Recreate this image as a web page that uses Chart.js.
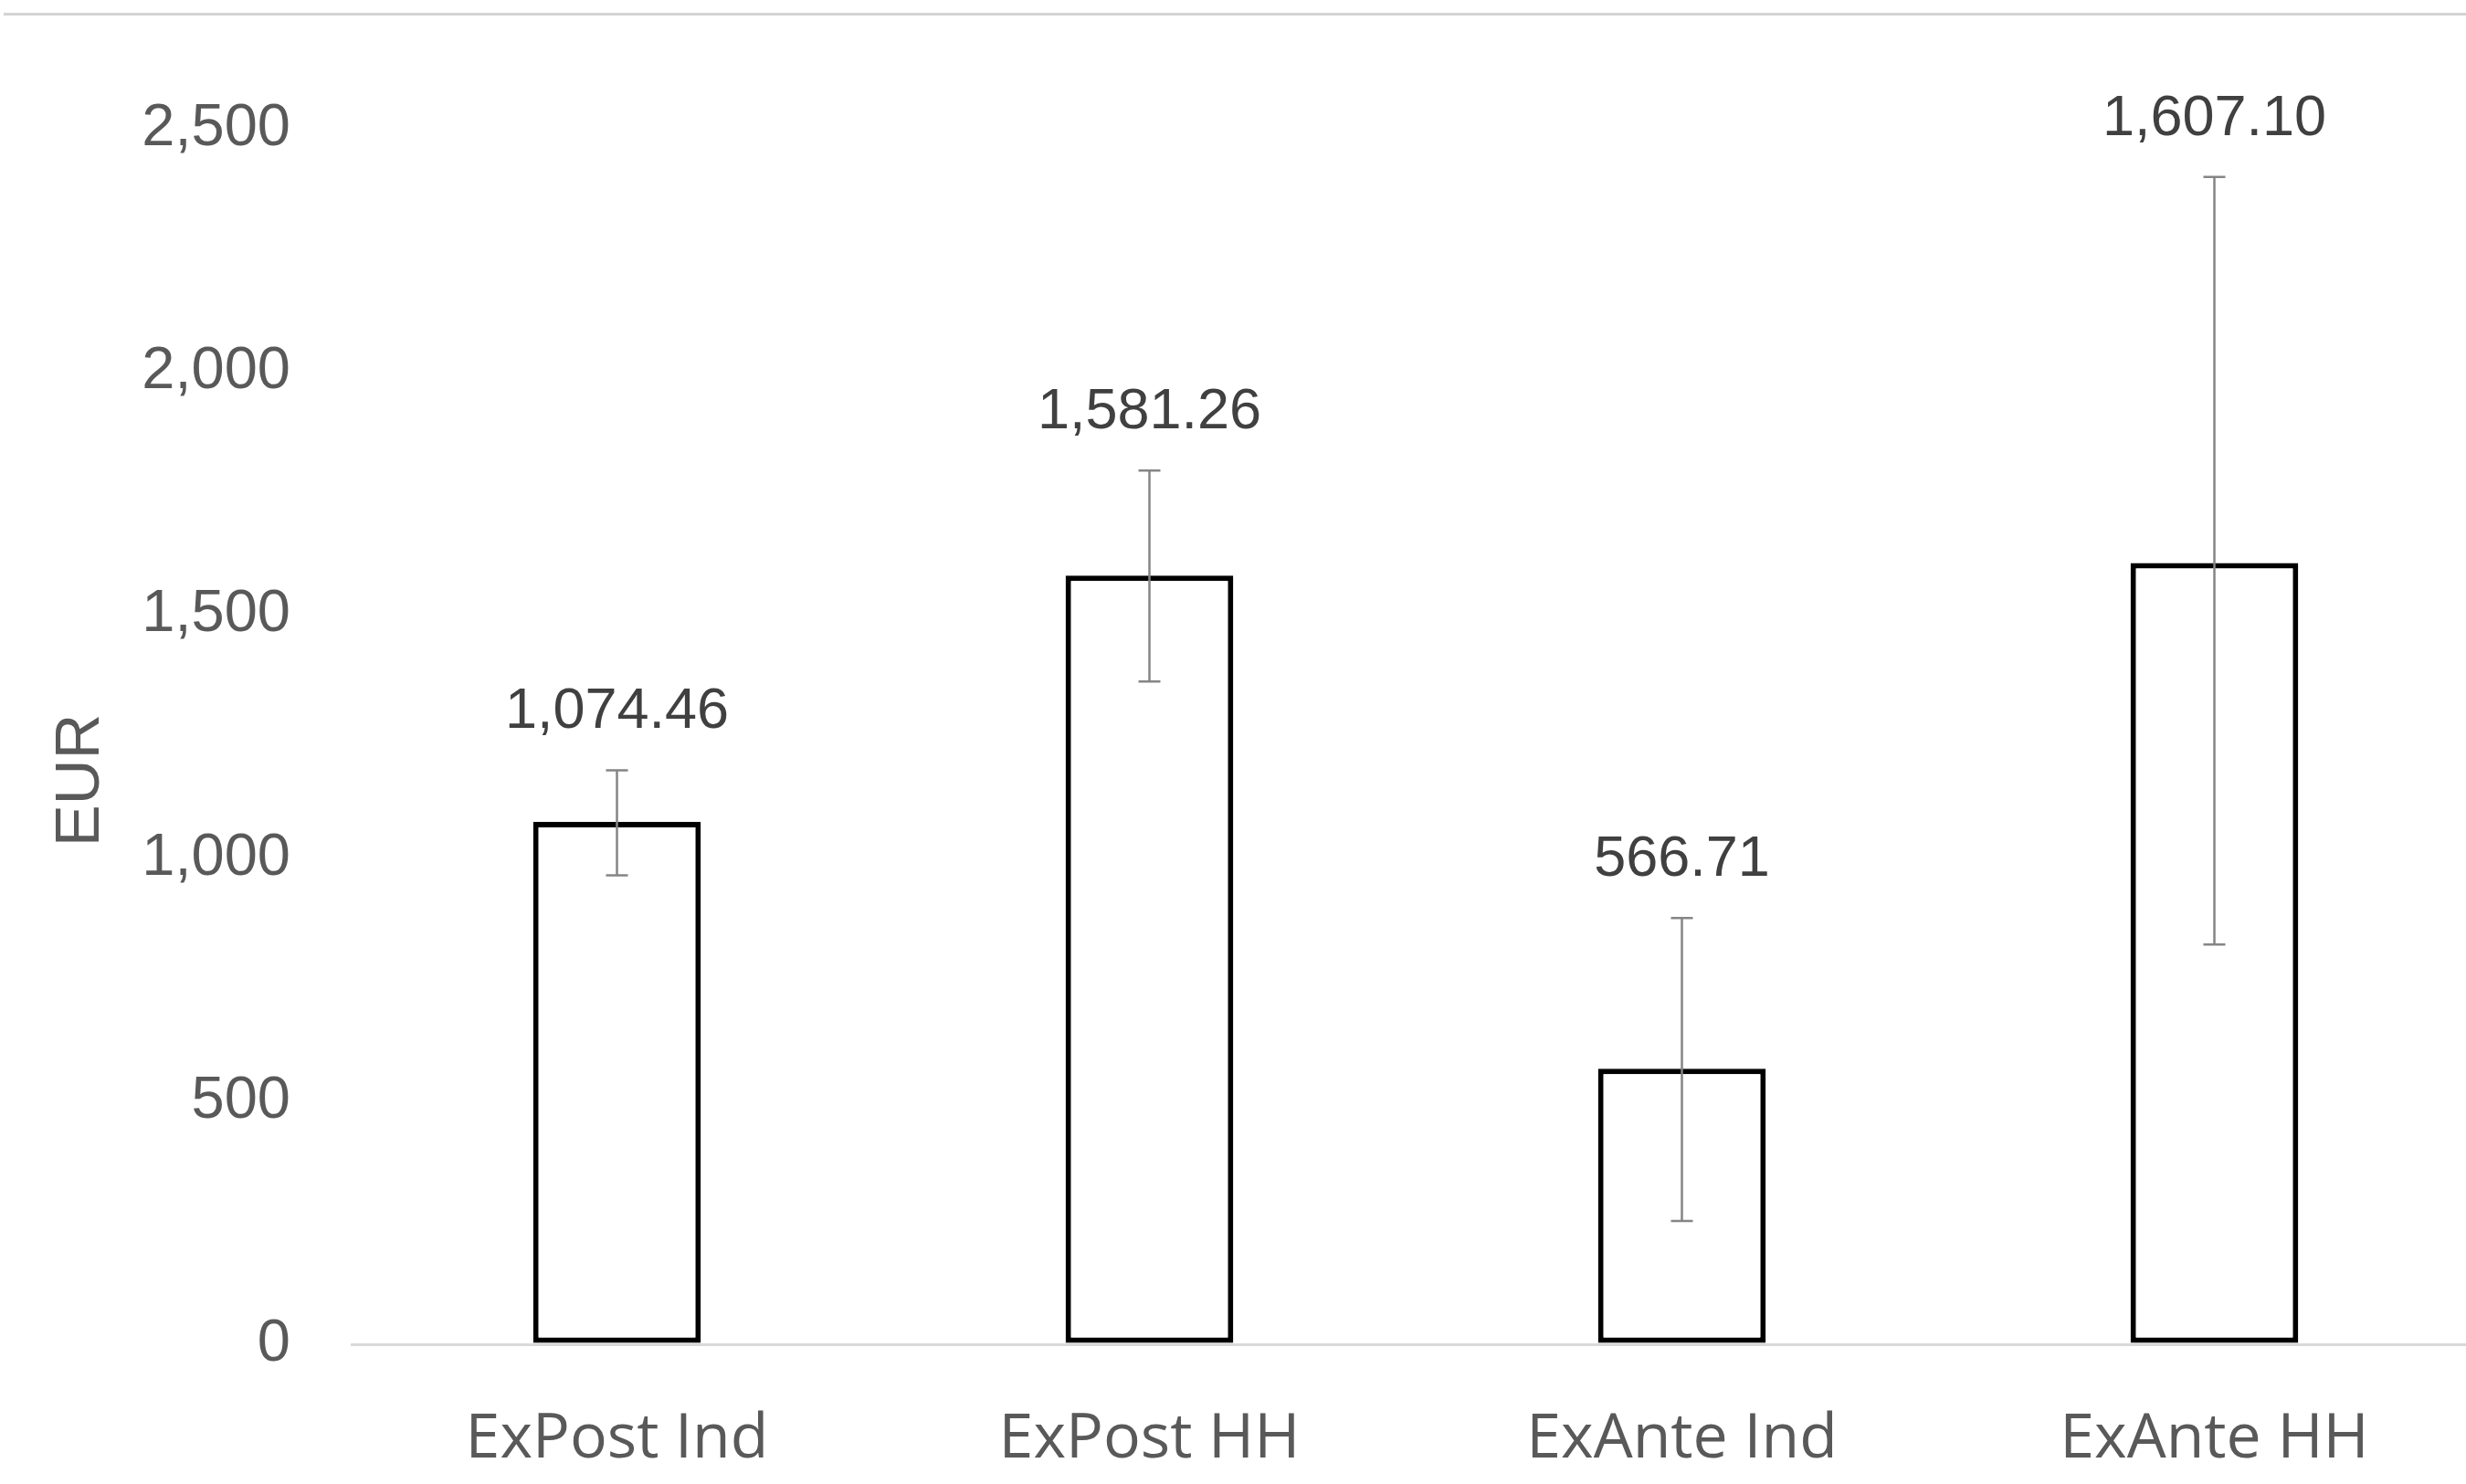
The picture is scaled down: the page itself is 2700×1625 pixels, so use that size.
<!DOCTYPE html>
<html>
<head>
<meta charset="utf-8">
<script src="https://cdn.jsdelivr.net/npm/chart.js@4.4.1/dist/chart.umd.min.js"></script>
<style>
  html, body { margin: 0; padding: 0; background: #fff; overflow: hidden; }
  #frame { position: absolute; left: 4px; top: 14px; width: 2720px; border-top: 3px solid #d4d4d4; }
  canvas { position: absolute; left: 0; top: 0; }
</style>
</head>
<body>
<div id="frame"></div>
<canvas id="eurChart" width="2716" height="1625"></canvas>
<script>
// Chart data
const categories = ['ExPost Ind', 'ExPost HH', 'ExAnte Ind', 'ExAnte HH'];
const values = [1074.46, 1581.26, 566.71, 1607.10];
const errPlus = [106, 216, 310, 794];
const errMinus = [110, 218, 313, 785];
const yTicks = [0, 500, 1000, 1500, 2000, 2500];

const axisFont = "'Liberation Sans', Arial, sans-serif";

// Error bars and value labels, drawn through the y scale
const errorBarPlugin = {
    id: 'errorBars',
    afterDatasetsDraw(chart) {
        const ctx = chart.ctx;
        const y = chart.scales.y;
        const meta = chart.getDatasetMeta(0);
        ctx.save();
        meta.data.forEach((bar, i) => {
            const top = y.getPixelForValue(values[i] + errPlus[i]);
            const bottom = y.getPixelForValue(values[i] - errMinus[i]);
            ctx.strokeStyle = '#858585';
            ctx.lineWidth = 2.5;
            ctx.beginPath();
            ctx.moveTo(bar.x, top);
            ctx.lineTo(bar.x, bottom);
            ctx.moveTo(bar.x - 12, top);
            ctx.lineTo(bar.x + 12, top);
            ctx.moveTo(bar.x - 12, bottom);
            ctx.lineTo(bar.x + 12, bottom);
            ctx.stroke();

            ctx.fillStyle = '#404040';
            ctx.font = "63px 'Liberation Sans', Arial, sans-serif";
            ctx.textAlign = 'center';
            ctx.textBaseline = 'bottom';
            const label = values[i].toLocaleString('en-US', { minimumFractionDigits: 2, maximumFractionDigits: 2 });
            ctx.fillText(label, bar.x, top - 32);
        });
        ctx.restore();
    }
};

const eurCtx = document.getElementById('eurChart').getContext('2d');
new Chart(eurCtx, {
    type: 'bar',
    data: {
        labels: categories,
        datasets: [{
            data: values,
            backgroundColor: '#ffffff',
            borderColor: '#000000',
            borderWidth: 6,
            borderSkipped: false,
            categoryPercentage: 1.0,
            barPercentage: 0.315
        }]
    },
    options: {
        responsive: false,
        animation: false,
        devicePixelRatio: 1,
        layout: {
            padding: { top: 141, bottom: 0, left: 0, right: 0 }
        },
        plugins: {
            legend: { display: false },
            tooltip: { enabled: false }
        },
        scales: {
            x: {
                afterFit: (scale) => {
                    scale.height = 153;
                },
                grid: { display: false, drawTicks: false },
                border: { display: false },
                ticks: {
                    color: '#595959',
                    padding: 64,
                    font: { family: "'Open Sans', sans-serif", size: 68 }
                }
            },
            y: {
                min: 0,
                max: 2500,
                afterBuildTicks: (scale) => {
                    scale.ticks = yTicks.map(v => ({ value: v }));
                },
                afterFit: (scale) => {
                    scale.width = 384;
                },
                grid: {
                    color: (c) => c.tick && c.tick.value === 0 ? '#d9d9d9' : 'rgba(0,0,0,0)',
                    lineWidth: 3,
                    drawTicks: false
                },
                border: { display: false },
                ticks: {
                    color: '#595959',
                    padding: 66,
                    font: { family: axisFont, size: 65 }
                },
                title: {
                    display: true,
                    text: 'EUR\u00a0\u00a0\u00a0\u00a0\u00a0',
                    color: '#595959',
                    padding: { top: 48, bottom: 0 },
                    font: { family: axisFont, size: 69 }
                }
            }
        }
    },
    plugins: [errorBarPlugin]
});
</script>
</body>
</html>
